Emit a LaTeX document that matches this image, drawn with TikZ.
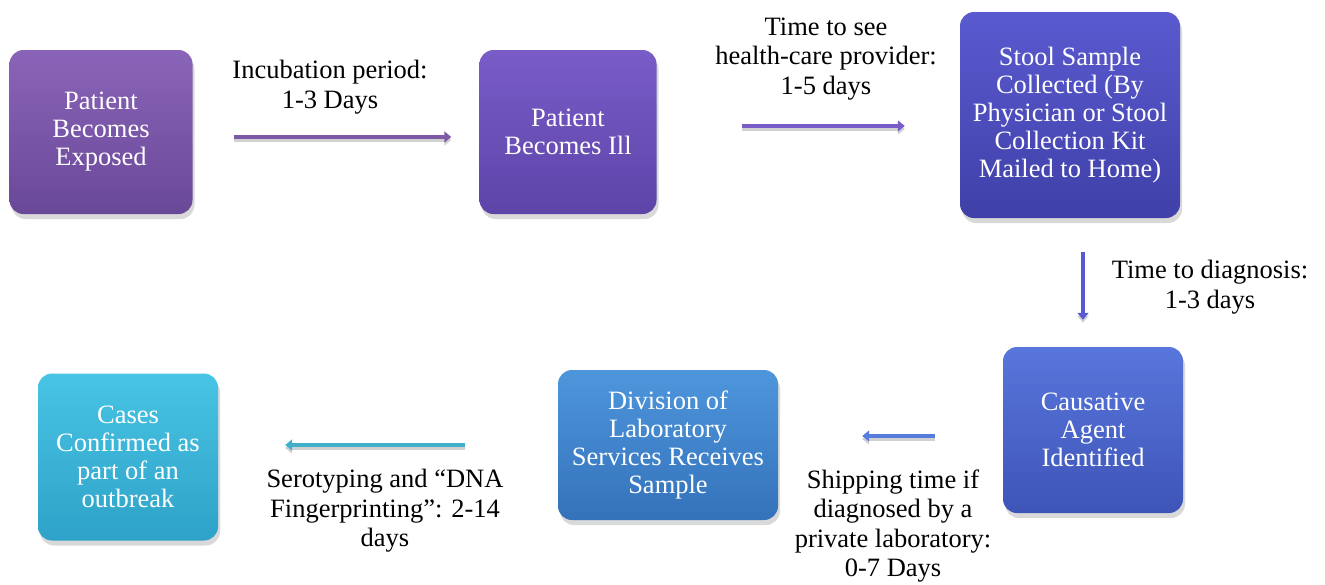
\documentclass[tikz,border=0pt]{standalone}
\usepackage{fontspec}
\setmainfont{Liberation Serif}
\usetikzlibrary{shadows,arrows.meta}
\definecolor{pa}{HTML}{8A64B8}\definecolor{pb}{HTML}{6A4898}
\definecolor{qa}{HTML}{7A5CC8}\definecolor{qb}{HTML}{5C44A8}
\definecolor{ra}{HTML}{5A5AD0}\definecolor{rb}{HTML}{4040A8}
\definecolor{sa}{HTML}{5876DC}\definecolor{sb}{HTML}{3E54B8}
\definecolor{ta}{HTML}{4E96DC}\definecolor{tb}{HTML}{3472BA}
\definecolor{ua}{HTML}{48C4E4}\definecolor{ub}{HTML}{2EA2C8}
\tikzstyle{kn}=[rounded corners=14pt, align=center, text=white,
font=\fontsize{26.5}{28}\selectfont, inner sep=0pt,
drop shadow={opacity=0.3, shadow xshift=2pt, shadow yshift=-5pt}]
\tikzstyle{lb}=[align=center, font=\fontsize{26.5}{29.5}\selectfont]
\tikzstyle{ar}=[line width=4pt, -{Triangle[length=7pt,width=11pt]},
preaction={draw=black!18, line width=4pt, transform canvas={yshift=-3pt}}]

\begin{document}
\begin{tikzpicture}[x=1pt,y=-1pt]
\useasboundingbox (0,0) rectangle (1325,584);
% boxes
\node[kn, top color=pa, bottom color=pb, minimum width=183pt, minimum height=164pt]
  (n1) at (101,132) {Patient\\Becomes\\Exposed};
\node[kn, top color=qa, bottom color=qb, minimum width=177pt, minimum height=164pt]
  (n2) at (568,132) {Patient\\Becomes Ill};
\node[kn, top color=ra, bottom color=rb, minimum width=220pt, minimum height=206pt]
  (n3) at (1070,115) {Stool Sample\\Collected (By\\Physician or Stool\\Collection Kit\\Mailed to Home)};
\node[kn, top color=sa, bottom color=sb, minimum width=180pt, minimum height=166pt]
  (n4) at (1093,430) {Causative\\Agent\\Identified};
\node[kn, top color=ta, bottom color=tb, minimum width=220pt, minimum height=150pt]
  (n5) at (668,445) {Division of\\Laboratory\\Services Receives\\Sample};
\node[kn, top color=ua, bottom color=ub, minimum width=180pt, minimum height=167pt]
  (n6) at (128,457) {Cases\\Confirmed as\\part of an\\outbreak};

% arrows
\draw[ar, draw=pa!90!black, shorten <=41pt, shorten >=28pt]
  ([yshift=-5pt]n1.east) -- ([yshift=-5pt]n2.west);
\draw[ar, draw=qa, shorten <=85pt, shorten >=55pt]
  ([yshift=6pt]n2.east) -- ([yshift=6pt]n2.east -| n3.west);
\draw[ar, draw=ra, shorten <=34pt, shorten >=27pt]
  ([xshift=13pt]n3.south) -- ([xshift=13pt]n3.south |- n4.north);
\draw[ar, draw=sa!80!ta, shorten <=68pt, shorten >=84pt]
  ([yshift=-6pt]n4.west) -- ([yshift=-6pt]n4.west -| n5.east);
\draw[ar, draw=ua!90!black, shorten <=93pt, shorten >=67pt]
  (n5.west) -- (n5.west -| n6.east);

% labels
\node[lb] (l1) at (330,87) {Incubation period:\\1-3 Days};
\node[lb] (l2) at (826,59) {Time to see\\health-care provider:\\1-5 days};
\node[lb] (l3) at (1210,287) {Time to diagnosis:\\1-3 days};
\node[lb] (l4) at (893,526) {Shipping time if\\diagnosed by a\\private laboratory:\\0-7 Days};
\node[lb] (l5) at (385,511) {Serotyping and ``DNA\\Fingerprinting'': 2-14\\days};
\end{tikzpicture}
\end{document}
